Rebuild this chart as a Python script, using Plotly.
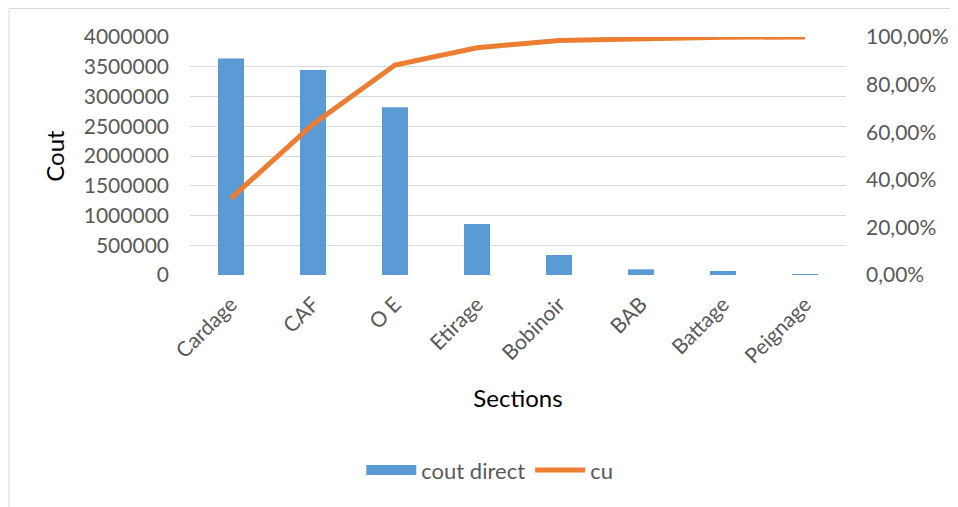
import plotly.graph_objects as go

sections = ["Cardage", "CAF", "O E", "Etirage", "Bobinoir", "BAB", "Battage", "Peignage"]
cout_direct = [3640000, 3445000, 2818000, 857000, 336000, 95000, 67000, 10000]
cu = [0.322, 0.634, 0.882, 0.955, 0.985, 0.993, 0.999, 1.0]

left_ticks = [0, 500000, 1000000, 1500000, 2000000, 2500000, 3000000, 3500000, 4000000]
left_tick_text = [str(v) for v in left_ticks]
right_ticks = [0, 0.2, 0.4, 0.6, 0.8, 1.0]
right_tick_text = ["0,00%", "20,00%", "40,00%", "60,00%", "80,00%", "100,00%"]

FONT = "Lato, 'Open Sans', sans-serif"
GRAY = "#595959"
BLUE = "#5B9BD5"
ORANGE = "#ED7D31"

fig = go.Figure()
fig.add_trace(go.Bar(x=sections, y=cout_direct, name="cout direct", showlegend=False,
                     marker=dict(color=BLUE, line=dict(width=0)), yaxis="y"))
# legend proxy drawing the wide Excel-style rectangle swatch
fig.add_trace(go.Scatter(x=[None], y=[None], name="cout direct", mode="lines",
                         line=dict(color=BLUE, width=14), yaxis="y"))
fig.add_trace(go.Scatter(x=sections, y=cu, name="cu", mode="lines",
                         line=dict(color=ORANGE, width=5), yaxis="y2"))

fig.update_layout(
    width=958, height=507,
    margin=dict(l=182, r=120, t=29, b=240),
    paper_bgcolor="white", plot_bgcolor="white",
    bargap=0.683,
    font=dict(family=FONT, color=GRAY, size=21),
    xaxis=dict(tickangle=-45, tickfont=dict(size=21, color=GRAY), automargin=False,
               ticklabelstandoff=12,
               title=dict(text="Sections", font=dict(size=24, color="black"), standoff=23),
               showline=False, showgrid=False, ticks=""),
    yaxis=dict(range=[0, 4000000], tickvals=left_ticks, ticktext=left_tick_text,
               tickfont=dict(size=21, color=GRAY), gridcolor="#D9D9D9", gridwidth=1,
               zeroline=False, showline=False, ticks="", automargin=False,
               ticklabelstandoff=20,
               title=dict(text="Cout", font=dict(size=24, color="black"), standoff=12)),
    yaxis2=dict(range=[0, 1.0], tickvals=right_ticks, ticktext=right_tick_text,
                overlaying="y", side="right", showgrid=False, zeroline=False, automargin=False,
                ticklabelstandoff=19,
                tickfont=dict(size=21, color=GRAY), ticks="", showline=False),
    legend=dict(orientation="h", x=0.457, xanchor="center", y=-0.82, yanchor="middle",
                font=dict(size=22, color=GRAY), bgcolor="rgba(0,0,0,0)", itemwidth=50),
    shapes=[dict(type="rect", xref="paper", yref="paper",
                 x0=-0.2759, x1=1.3, y0=-1.0, y1=1.1197,
                 line=dict(color="#D9D9D9", width=1), fillcolor="rgba(0,0,0,0)", layer="below")],
)

fig.write_html("out.html")
